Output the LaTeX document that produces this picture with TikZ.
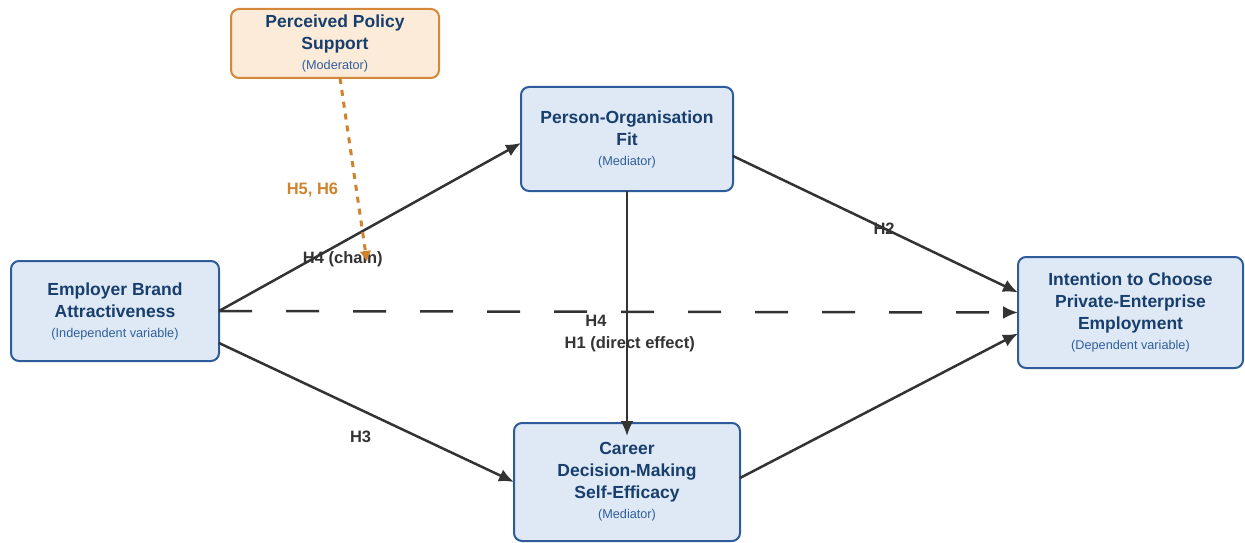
\documentclass[tikz,border=0pt]{standalone}
\usepackage{fontspec}
\setmainfont{Liberation Sans}
\usetikzlibrary{arrows.meta}
\usetikzlibrary{positioning}
\definecolor{boxfill}{HTML}{DFE9F5}
\definecolor{boxline}{HTML}{2E5C9A}
\definecolor{titleblue}{HTML}{173E6C}
\definecolor{subblue}{HTML}{2F5F9C}
\definecolor{modfill}{HTML}{FCEBD8}
\definecolor{modline}{HTML}{D3883A}
\definecolor{modtext}{HTML}{D0822C}
\definecolor{pathgray}{HTML}{333333}
% second line of a box: the role of the variable
\newcommand{\roleline}[1]{\\[-2pt]{\mdseries\fontsize{12.7}{15}\selectfont\color{subblue}(#1)}}
\tikzset{
    var_box/.style = {rectangle, rounded corners=8pt, draw=boxline, fill=boxfill,
        line width=2pt, align=center, text=titleblue, inner sep=0pt, outer sep=0pt,
        font=\bfseries\fontsize{17.5}{22}\selectfont},% construct
    mod_box/.style = {var_box, draw=modline, fill=modfill},% moderator
    path_e/.style = {->, draw=pathgray, line width=2.5pt},% hypothesised path
    path_d/.style = {path_e, dash pattern=on 33pt off 34pt},% direct effect
    path_m/.style = {-{Latex[length=11pt,width=12pt]}, draw=modtext, line width=3pt,
        dash pattern=on 6pt off 6pt},% moderation
    hyp_lbl/.style = {font=\bfseries\fontsize{16.5}{18}\selectfont, text=pathgray},
}

\begin{document}
\begin{tikzpicture}[x=1pt, y=1pt, >={Latex[length=15pt,width=13pt]}]
\useasboundingbox (0,0) rectangle (1245,542);

\node[mod_box, minimum width=208pt, minimum height=69pt] (mod) at (335,498.5)
    {Perceived Policy\\Support\roleline{Moderator}};
\node[var_box, minimum width=208pt, minimum height=100pt] (eba) at (115,231)
    {Employer Brand\\Attractiveness\roleline{Independent variable}};
\node[var_box, minimum width=212pt, minimum height=104pt] (pof) at (627,403)
    {Person-Organisation\\Fit\roleline{Mediator}};
\node[var_box, minimum width=226pt, minimum height=118pt] (cdm) at (627,60)
    {Career\\Decision-Making\\Self-Efficacy\roleline{Mediator}};
\node[var_box, minimum width=225pt, minimum height=111pt] (itc) at (1130.5,229.5)
    {Intention to Choose\\Private-Enterprise\\Employment\roleline{Dependent variable}};

\draw[path_e] (eba.east) -- ([yshift=-4pt]pof.west)
    node[hyp_lbl, pos=0.41, yshift=-17pt] {H4 (chain)};
\draw[path_e] ([yshift=-32pt]eba.east) -- (cdm.west)
    node[hyp_lbl, pos=0.48, yshift=-27pt] {H3};
\draw[path_e] ([yshift=-17pt]pof.east) -- ([yshift=20pt]itc.west)
    node[hyp_lbl, pos=0.53] {H2};
\draw[path_e] ([yshift=4pt]cdm.east) -- ([yshift=-21pt]itc.west);
\draw[path_e] (pof.south) -- ([yshift=-13pt]cdm.north)
    node[hyp_lbl, pos=0.53, xshift=-31pt] {H4};
\draw[path_d] (eba.east) -- (itc.west)
    node[hyp_lbl, pos=0.514, yshift=-32pt] {H1 (direct effect)};

% policy support moderates the chain
\coordinate (mod_tip) at (367,280);
\draw[path_m] ([xshift=5pt]mod.south) -- (mod_tip)
    node[hyp_lbl, text=modtext, pos=0.61, xshift=-44pt] {H5, H6};
\end{tikzpicture}
\end{document}
